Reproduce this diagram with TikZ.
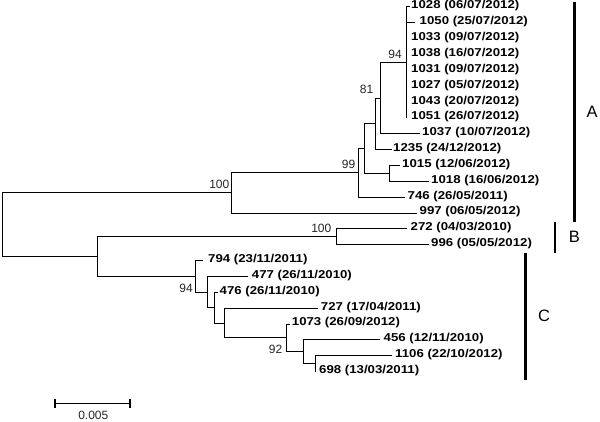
\documentclass[tikz,border=0pt]{standalone}
\usepackage{fontspec}
\usepackage{graphicx}
\setmainfont{Liberation Sans}
\newfontfamily\bsfont{Liberation Sans}
\newcommand{\tiptext}[1]{\scalebox{1.16}[1]{\bfseries #1}}
\begin{document}
\begin{tikzpicture}[x=1pt,y=-1pt,
  branch/.style={line width=1pt, draw=black},
  tiplab/.style={anchor=west, inner sep=0pt, font=\fontsize{11.4}{13}\selectfont},
  bslab/.style={anchor=base east, inner sep=0pt, text=black!85, font=\bsfont\fontsize{12}{14}\selectfont},
  cladebar/.style={line width=2.8pt, draw=black},
  cladelab/.style={inner sep=0pt, font=\bsfont\fontsize{16.5}{18}\selectfont},
  scalebar/.style={line width=1.5pt, draw=black}]
\useasboundingbox (0,0) rectangle (600,422);
\fill[white] (0,0) rectangle (600,422);

% internal nodes
\coordinate (n94) at (406.5,62.5);
\coordinate (n81) at (380.7,98.15);
\coordinate (na) at (375,123.9);
\coordinate (n1015) at (389.3,173.4);
\coordinate (nb) at (364,148.65);
\coordinate (n99) at (358.7,172.9);
\coordinate (n100) at (231.7,193);
\coordinate (nB) at (336,236.8);
\coordinate (n1106) at (315,363.6);
\coordinate (n456) at (303.3,351.7);
\coordinate (n92) at (286.7,337.9);
\coordinate (n727) at (224,323);
\coordinate (n476) at (214,307.65);
\coordinate (n477) at (207.3,292.05);
\coordinate (n794) at (195.7,276.3);
\coordinate (nBC) at (97.7,256.55);
\coordinate (root) at (2,224.8);

% tips: branch end coordinate + label
\coordinate (t1028) at (410,7.0);     \node[tiplab] (l1028) at (411,6.0) {\tiptext{1028 (06/07/2012)}};
\coordinate (t1050) at (415,22.85);   \node[tiplab] (l1050) at (419.5,21.85) {\tiptext{1050 (25/07/2012)}};
\coordinate (t1033) at (406.5,38.7);  \node[tiplab] (l1033) at (411,37.7) {\tiptext{1033 (09/07/2012)}};
\coordinate (t1038) at (406.5,54.55); \node[tiplab] (l1038) at (411,53.55) {\tiptext{1038 (16/07/2012)}};
\coordinate (t1031) at (406.5,70.4);  \node[tiplab] (l1031) at (411,69.4) {\tiptext{1031 (09/07/2012)}};
\coordinate (t1027) at (406.5,86.25); \node[tiplab] (l1027) at (411,85.25) {\tiptext{1027 (05/07/2012)}};
\coordinate (t1043) at (406.5,102.1); \node[tiplab] (l1043) at (411,101.1) {\tiptext{1043 (20/07/2012)}};
\coordinate (t1051) at (406.5,117.95);\node[tiplab] (l1051) at (411,116.95) {\tiptext{1051 (26/07/2012)}};
\coordinate (t1037) at (420,133.8);   \node[tiplab] (l1037) at (422,132.8) {\tiptext{1037 (10/07/2012)}};
\coordinate (t1235) at (391.7,149.65);\node[tiplab] (l1235) at (393,148.65) {\tiptext{1235 (24/12/2012)}};
\coordinate (t1015) at (400,165.5);   \node[tiplab] (l1015) at (402,164.5) {\tiptext{1015 (12/06/2012)}};
\coordinate (t1018) at (429.3,181.35);\node[tiplab] (l1018) at (431,180.35) {\tiptext{1018 (16/06/2012)}};
\coordinate (t746) at (405,197.2);    \node[tiplab] (l746) at (407.5,196.2) {\tiptext{746 (26/05/2011)}};
\coordinate (t997) at (417.3,213.05); \node[tiplab] (l997) at (419.5,212.05) {\tiptext{997 (06/05/2012)}};
\coordinate (t272) at (406.7,228.9);  \node[tiplab] (l272) at (410.5,227.9) {\tiptext{272 (04/03/2010)}};
\coordinate (t996) at (429.3,244.75); \node[tiplab] (l996) at (431,243.75) {\tiptext{996 (05/05/2012)}};
\coordinate (t794) at (203.3,260.6);  \node[tiplab] (l794) at (208,259.6) {\tiptext{794 (23/11/2011)}};
\coordinate (t477) at (248.3,276.45); \node[tiplab] (l477) at (251.7,275.45) {\tiptext{477 (26/11/2010)}};
\coordinate (t476) at (218,292.3);    \node[tiplab] (l476) at (219.5,291.3) {\tiptext{476 (26/11/2010)}};
\coordinate (t727) at (318.3,308.15); \node[tiplab] (l727) at (320.7,307.15) {\tiptext{727 (17/04/2011)}};
\coordinate (t1073) at (290,324.0);   \node[tiplab] (l1073) at (291.7,323.0) {\tiptext{1073 (26/09/2012)}};
\coordinate (t456) at (380,339.85);   \node[tiplab] (l456) at (383.5,338.85) {\tiptext{456 (12/11/2010)}};
\coordinate (t1106) at (391.7,355.7); \node[tiplab] (l1106) at (395,354.7) {\tiptext{1106 (22/10/2012)}};
\coordinate (t698) at (315,371.55);   \node[tiplab] (l698) at (319,370.55) {\tiptext{698 (13/03/2011)}};

% branches
\foreach \c in {t1028,t1050,t1033,t1038,t1031,t1027,t1043,t1051} \draw[branch] (n94) |- (\c);
\draw[branch] (n81) |- (n94);
\draw[branch] (n81) |- (t1037);
\draw[branch] (na) |- (n81);
\draw[branch] (na) |- (t1235);
\draw[branch] (n1015) |- (t1015);
\draw[branch] (n1015) |- (t1018);
\draw[branch] (nb) |- (na);
\draw[branch] (nb) |- (n1015);
\draw[branch] (n99) |- (nb);
\draw[branch] (n99) |- (t746);
\draw[branch] (n100) |- (n99);
\draw[branch] (n100) |- (t997);
\draw[branch] (root) |- (n100);
\draw[branch] (root) |- (nBC);
\draw[branch] (nB) |- (t272);
\draw[branch] (nB) |- (t996);
\draw[branch] (nBC) |- (nB);
\draw[branch] (nBC) |- (n794);
\draw[branch] (n794) |- (t794);
\draw[branch] (n794) |- (n477);
\draw[branch] (n477) |- (t477);
\draw[branch] (n477) |- (n476);
\draw[branch] (n476) |- (t476);
\draw[branch] (n476) |- (n727);
\draw[branch] (n727) |- (t727);
\draw[branch] (n727) |- (n92);
\draw[branch] (n92) |- (t1073);
\draw[branch] (n92) |- (n456);
\draw[branch] (n456) |- (t456);
\draw[branch] (n456) |- (n1106);
\draw[branch] (n1106) |- (t1106);
\draw[branch] (n1106) |- (t698);

% bootstrap values
\node[bslab] (b100a) at (229.5,188.5) {100};
\node[bslab] (b99) at (355.5,168.5) {99};
\node[bslab] (b81) at (373.5,93.5) {81};
\node[bslab] (b94a) at (402,58.5) {94};
\node[bslab] (b100b) at (331.5,232.5) {100};
\node[bslab] (b94b) at (193,292.3) {94};
\node[bslab] (b92) at (282.5,353.5) {92};

% clade bars
\coordinate (Atop) at (574.5,2);   \coordinate (Abot) at (574.5,222);
\coordinate (Btop) at (555,222.3); \coordinate (Bbot) at (555,253.3);
\coordinate (Ctop) at (525.3,253.3); \coordinate (Cbot) at (525.3,380);
\draw[cladebar] (Atop) -- (Abot);
\draw[cladebar] (Btop) -- (Bbot);
\draw[cladebar] (Ctop) -- (Cbot);
\node[cladelab] (labA) at (592,111.7) {A};
\node[cladelab] (labB) at (574.3,236.7) {B};
\node[cladelab] (labC) at (544,316) {C};

% scale bar
\coordinate (sL) at (55,403.3);
\coordinate (sR) at (130,403.3);
\draw[scalebar] (sL) -- (sR);
\draw[scalebar] ([yshift=-4.5pt]sL) -- ([yshift=4.5pt]sL);
\draw[scalebar] ([yshift=-4.5pt]sR) -- ([yshift=4.5pt]sR);
\node[bslab, anchor=base] (slab) at (93.3,419) {0.005};
\end{tikzpicture}
\end{document}
